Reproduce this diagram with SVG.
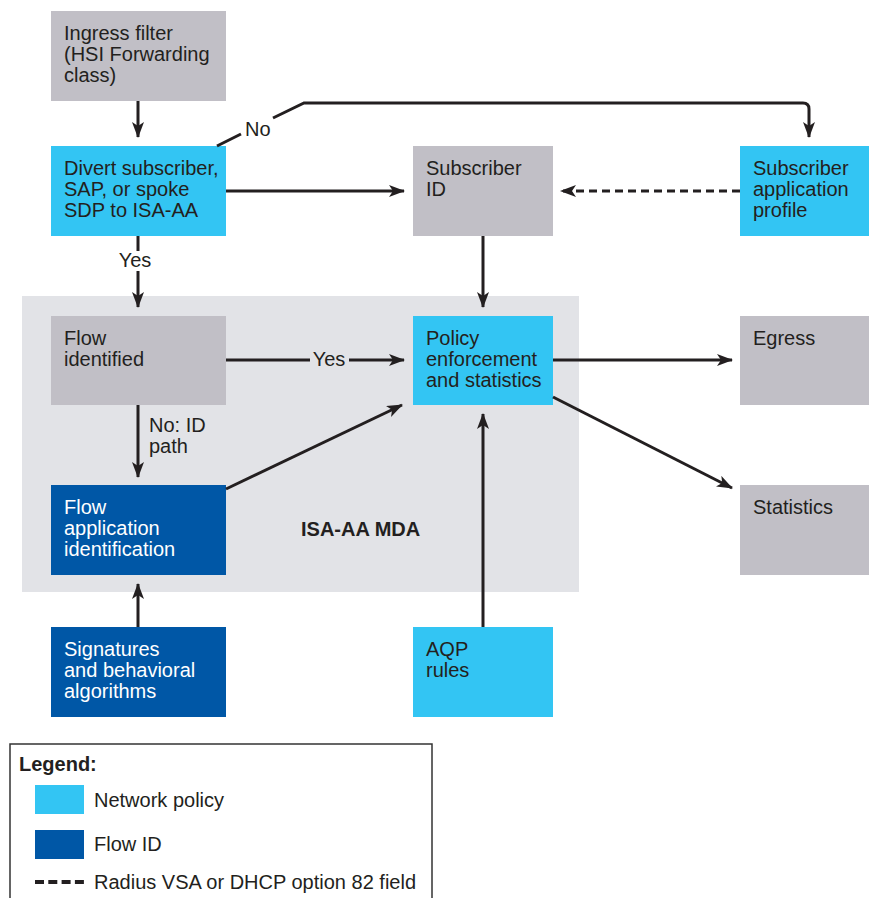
<svg xmlns="http://www.w3.org/2000/svg" width="869" height="898" viewBox="0 0 869 898">
<style>
text{font-family:"Liberation Sans",Arial,sans-serif;font-size:20px;fill:#231f20}
.w{fill:#ffffff}
.b{font-weight:bold}
.gray{fill:#c1bfc6}
.lb{fill:#33c5f3}
.db{fill:#0057a6}
.ln{stroke:#231f20;stroke-width:3;fill:none}
.arr{marker-end:url(#ah)}
.dash{stroke-dasharray:8 5}
</style>
<defs>
<marker id="ah" markerUnits="userSpaceOnUse" markerWidth="16" markerHeight="12" viewBox="0 0 16 12" refX="15" refY="6" orient="auto">
<path d="M0,0 L16,6 L0,12 L4,6 z" fill="#231f20"/>
</marker>
</defs>
<rect x="22" y="296" width="557" height="296" fill="#e2e3e7"/>
<text class="b" x="301" y="536">ISA-AA MDA</text>
<g id="ingress"><rect class="gray" x="51" y="11" width="175" height="90"/><text x="64" y="40">Ingress filter</text><text x="64" y="61">(HSI Forwarding</text><text x="64" y="82">class)</text></g>
<g id="divert"><rect class="lb" x="51" y="146" width="175" height="90"/><text x="64" y="175">Divert subscriber,</text><text x="64" y="196">SAP, or spoke</text><text x="64" y="217">SDP to ISA-AA</text></g>
<g id="subid"><rect class="gray" x="413" y="146" width="140" height="90"/><text x="426" y="175">Subscriber</text><text x="426" y="196">ID</text></g>
<g id="subapp"><rect class="lb" x="740" y="146" width="129" height="90"/><text x="753" y="175">Subscriber</text><text x="753" y="196">application</text><text x="753" y="217">profile</text></g>
<g id="flowid"><rect class="gray" x="51" y="316" width="175" height="89"/><text x="64" y="345">Flow</text><text x="64" y="366">identified</text></g>
<g id="policy"><rect class="lb" x="413" y="316" width="140" height="89"/><text x="426" y="345">Policy</text><text x="426" y="366">enforcement</text><text x="426" y="387">and statistics</text></g>
<g id="egress"><rect class="gray" x="740" y="316" width="129" height="89"/><text x="753" y="345">Egress</text></g>
<g id="flowapp"><rect class="db" x="51" y="485" width="175" height="90"/><text class="w" x="64" y="514">Flow</text><text class="w" x="64" y="535">application</text><text class="w" x="64" y="556">identification</text></g>
<g id="statistics"><rect class="gray" x="740" y="485" width="129" height="90"/><text x="753" y="514">Statistics</text></g>
<g id="signatures"><rect class="db" x="51" y="627" width="175" height="90"/><text class="w" x="64" y="656">Signatures</text><text class="w" x="64" y="677">and behavioral</text><text class="w" x="64" y="698">algorithms</text></g>
<g id="aqp"><rect class="lb" x="413" y="627" width="140" height="90"/><text x="426" y="656">AQP</text><text x="426" y="677">rules</text></g>
<g id="connectors">
<line class="ln arr" x1="138" y1="101" x2="138" y2="137"/>
<path class="ln" d="M217,146 L241,134"/>
<path class="ln arr" d="M273,118 L304,103 L803,103 Q809,103 809,109 L809,137"/>
<text x="245" y="136">No</text>
<line class="ln arr" x1="226" y1="191" x2="404" y2="191"/>
<line class="ln dash arr" x1="740" y1="191" x2="561" y2="191"/>
<line class="ln" x1="138" y1="236" x2="138" y2="251"/>
<line class="ln arr" x1="138" y1="271" x2="138" y2="307"/>
<text x="135" y="267" text-anchor="middle">Yes</text>
<line class="ln arr" x1="483" y1="236" x2="483" y2="307"/>
<line class="ln" x1="226" y1="360" x2="310" y2="360"/>
<line class="ln arr" x1="349" y1="360" x2="404" y2="360"/>
<text x="329" y="366" text-anchor="middle">Yes</text>
<line class="ln arr" x1="138" y1="405" x2="138" y2="477"/>
<text x="149" y="432">No: ID</text>
<text x="149" y="453">path</text>
<line class="ln arr" x1="226" y1="489" x2="402" y2="405"/>
<line class="ln arr" x1="138" y1="627" x2="138" y2="584"/>
<line class="ln arr" x1="483" y1="627" x2="483" y2="414"/>
<line class="ln arr" x1="553" y1="360" x2="732" y2="360"/>
<line class="ln arr" x1="553" y1="397" x2="732" y2="488"/>
</g>
<g id="legend">
<rect x="10" y="744" width="422" height="170" fill="#ffffff" stroke="#333333" stroke-width="1.5"/>
<text class="b" x="19" y="771">Legend:</text>
<rect class="lb" x="35" y="785" width="49" height="29"/>
<text x="94" y="807">Network policy</text>
<rect class="db" x="35" y="830" width="49" height="29"/>
<text x="94" y="851">Flow ID</text>
<line x1="35" y1="882" x2="84" y2="882" stroke="#231f20" stroke-width="4" stroke-dasharray="9 4.3"/>
<text x="94" y="889">Radius VSA or DHCP option 82 field</text>
</g>
</svg>
